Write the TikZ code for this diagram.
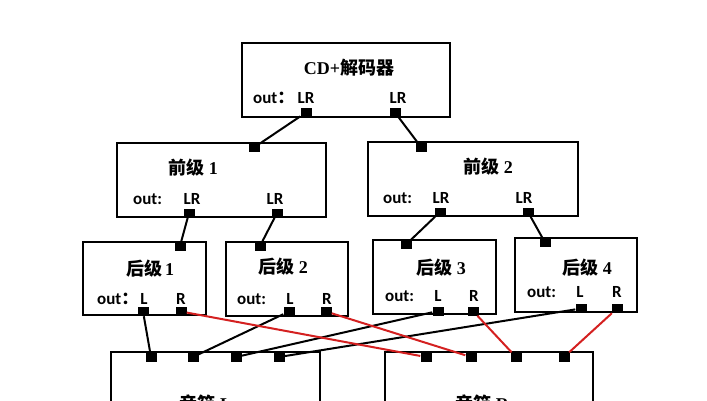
\documentclass[tikz,border=0pt]{standalone}
\usepackage{fontspec}
\setmainfont{Liberation Serif}
\newfontfamily\cjk{Noto Sans CJK SC}
\newfontfamily\lab{Carlito}
\definecolor{wirered}{RGB}{212,32,32}
\tikzset{
  box/.style={draw=black, line width=2pt, inner sep=0pt},
  port/.style={fill=black, draw=none, minimum width=11pt, minimum height=9pt, inner sep=0pt},
  title/.style={font=\fontsize{18}{18}\selectfont\bfseries, inner sep=0pt},
  lbl/.style={font=\lab\fontsize{17}{17}\selectfont\bfseries, inner sep=0pt, anchor=base},
  outlbl/.style={lbl, anchor=base west},
  wire/.style={line width=2pt, draw=black},
  redwire/.style={line width=2pt, draw=wirered},
}
\newcommand{\fwc}{{\cjk ：}}
\begin{document}
\begin{tikzpicture}[x=1pt,y=-1pt]
\useasboundingbox (0,0) rectangle (707,400);
% boxes
\node[box, minimum width=208pt, minimum height=74pt] (cd) at (346,80) {};
\node[box, minimum width=209pt, minimum height=74pt] (pre1) at (221.5,180) {};
\node[box, minimum width=210pt, minimum height=74pt] (pre2) at (473,179) {};
\node[box, minimum width=123pt, minimum height=73pt] (post1) at (144.5,278.5) {};
\node[box, minimum width=122pt, minimum height=74pt] (post2) at (287,279) {};
\node[box, minimum width=123pt, minimum height=74pt] (post3) at (434.5,277) {};
\node[box, minimum width=122pt, minimum height=74pt] (post4) at (576,275) {};
\node[box, minimum width=209pt, minimum height=80pt] (spkL) at (215.5,392) {};
\node[box, minimum width=208pt, minimum height=80pt] (spkR) at (489,392) {};
% texts
\node[title] (tcd) at (349,68) {CD+\cjk 解码器};
\node[outlbl] (ocd) at (253,103) {out\fwc};
\node[lbl] (lcd1) at (306,103) {LR};
\node[lbl] (lcd2) at (398,103) {LR};
\node[title] (tp1) at (193,168) {{\cjk 前级} 1};
\node[outlbl] (op1) at (133,204) {out:};
\node[lbl] (lp1a) at (192,204) {LR};
\node[lbl] (lp1b) at (275,204) {LR};
\node[title] (tp2) at (488,167) {{\cjk 前级} 2};
\node[outlbl] (op2) at (383,203) {out:};
\node[lbl] (lp2a) at (441,203) {LR};
\node[lbl] (lp2b) at (524,203) {LR};
\node[title] (th1) at (150,269) {{\cjk 后级}\,1};
\node[outlbl] (oh1) at (97,304) {out\fwc};
\node[lbl] (lh1a) at (144,304) {L};
\node[lbl] (lh1b) at (181,304) {R};
\node[title] (th2) at (283,267) {{\cjk 后级} 2};
\node[outlbl] (oh2) at (237,304) {out:};
\node[lbl] (lh2a) at (290,304) {L};
\node[lbl] (lh2b) at (327,304) {R};
\node[title] (th3) at (441,268) {{\cjk 后级} 3};
\node[outlbl] (oh3) at (385,301) {out:};
\node[lbl] (lh3a) at (438,301) {L};
\node[lbl] (lh3b) at (474,301) {R};
\node[title] (th4) at (587,268) {{\cjk 后级} 4};
\node[outlbl] (oh4) at (527,297) {out:};
\node[lbl] (lh4a) at (580,297) {L};
\node[lbl] (lh4b) at (617,297) {R};
\node[title] (tsL) at (206,404) {{\cjk 音箱} L};
\node[title] (tsR) at (482,404) {{\cjk 音箱} R};
% ports
\node[port] (cdA) at (306,112.5) {};
\node[port] (cdB) at (395,112.5) {};
\node[port] (p1in) at (254,147.5) {};
\node[port] (p1A) at (189,213) {};
\node[port] (p1B) at (277,213) {};
\node[port] (p2in) at (421,147) {};
\node[port] (p2A) at (440,212) {};
\node[port] (p2B) at (528,212) {};
\node[port] (h1in) at (180,246) {};
\node[port] (h1L) at (143,311.5) {};
\node[port] (h1R) at (181,311.5) {};
\node[port] (h2in) at (260,246) {};
\node[port] (h2L) at (289,311.5) {};
\node[port] (h2R) at (326,311.5) {};
\node[port] (h3in) at (406,244.5) {};
\node[port] (h3L) at (438,311) {};
\node[port] (h3R) at (473,311) {};
\node[port] (h4in) at (545,242.5) {};
\node[port] (h4L) at (581,308.5) {};
\node[port] (h4R) at (617,308.5) {};
\node[port] (sL1) at (151,357) {};
\node[port] (sL2) at (193,357) {};
\node[port] (sL3) at (236,357) {};
\node[port] (sL4) at (279,357) {};
\node[port] (sR1) at (426,357) {};
\node[port] (sR2) at (471,357) {};
\node[port] (sR3) at (516,357) {};
\node[port] (sR4) at (564,357) {};
% wires
\draw[wire] (cdA) -- (p1in);
\draw[wire] (cdB) -- (p2in);
\draw[wire] (p1A) -- (h1in);
\draw[wire] (p1B) -- (h2in);
\draw[wire] (p2A) -- (h3in);
\draw[wire] (p2B) -- (h4in);
\draw[wire] (h1L) -- (sL1);
\draw[wire] (h2L) -- (sL2);
\draw[wire] (h3L) -- (sL3);
\draw[wire] (h4L) -- (sL4);
\draw[redwire] (h1R) -- (sR1);
\draw[redwire] (h2R) -- (sR2);
\draw[redwire] (h3R) -- (sR3);
\draw[redwire] (h4R) -- (sR4);
\end{tikzpicture}
\end{document}
